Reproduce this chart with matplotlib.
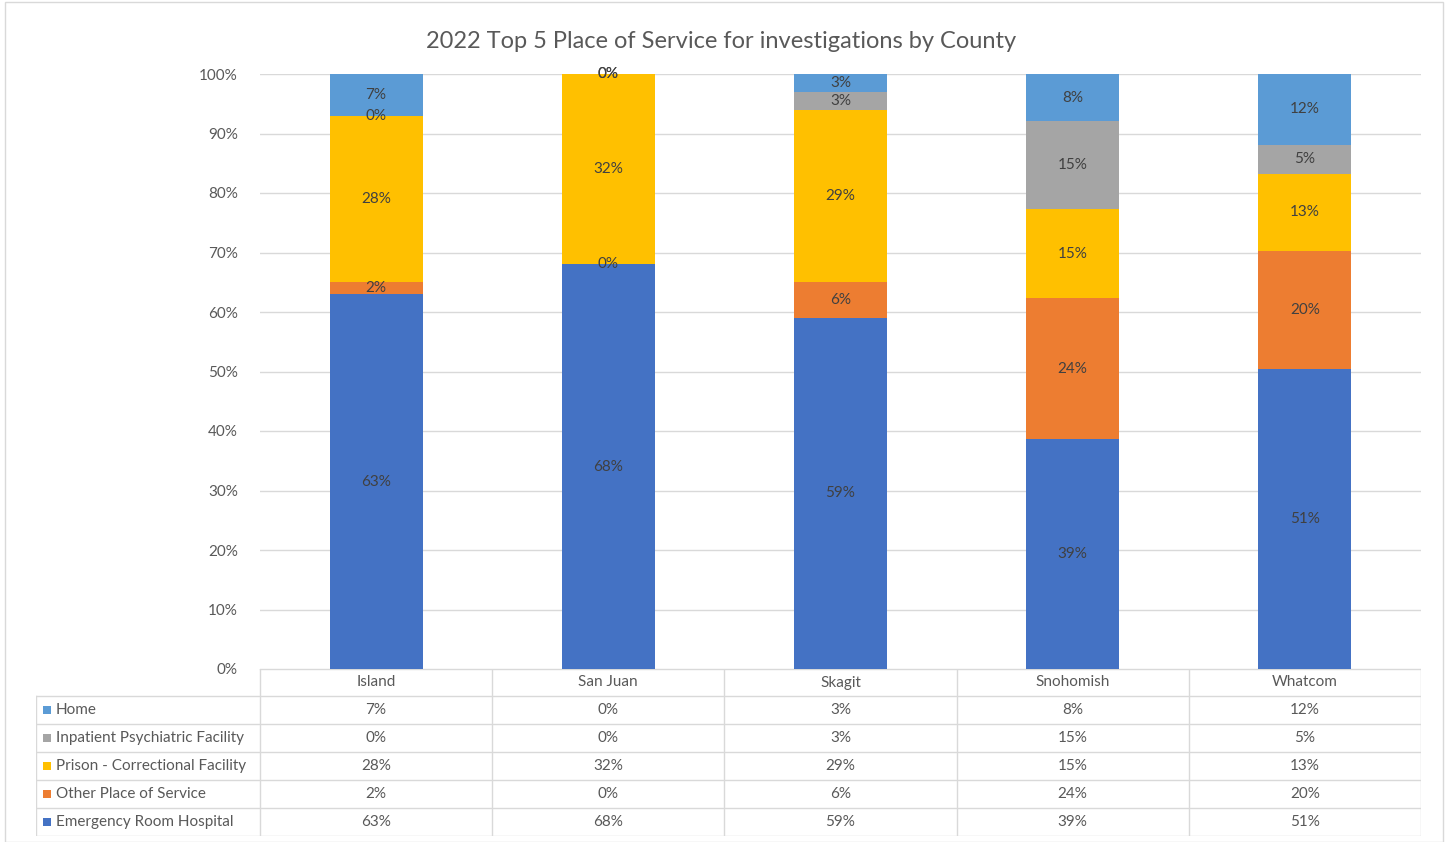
import numpy as np
import matplotlib.pyplot as plt
from matplotlib.patches import Rectangle

plt.rcParams['font.family'] = ['Lato', 'DejaVu Sans']

counties = ['Island', 'San Juan', 'Skagit', 'Snohomish', 'Whatcom']
# table order, top row first
places = ['Home', 'Inpatient Psychiatric Facility', 'Prison - Correctional Facility',
          'Other Place of Service', 'Emergency Room Hospital']
home = [7, 0, 3, 8, 12]
inpatient = [0, 0, 3, 15, 5]
prison = [28, 32, 29, 15, 13]
other = [2, 0, 6, 24, 20]
er = [63, 68, 59, 39, 51]
colors = ['#5B9BD5', '#A5A5A5', '#FFC000', '#ED7D31', '#4472C4']

W, H = 1445, 842
fig = plt.figure(figsize=(W / 100, H / 100), dpi=100)
fig.patches.append(Rectangle((5 / W, 0), 1438 / W, 840 / H, transform=fig.transFigure,
                             fill=False, edgecolor='#d9d9d9', lw=1))

def px(x0, y0, x1, y1):
    return [x0 / W, 1 - y1 / H, (x1 - x0) / W, (y1 - y0) / H]

ax = fig.add_axes(px(260, 74, 1421, 669))
rows = [home, inpatient, prison, other, er]
data = np.array(rows, dtype=float)
pct = data / data.sum(axis=0) * 100  # 100% stacked
x = np.arange(len(counties))
bottom = np.zeros(len(counties))
# stack from the bottom row of the table upwards
for i in range(len(places) - 1, -1, -1):
    ax.bar(x, pct[i], 0.4, bottom=bottom, color=colors[i], zorder=2)
    for j in range(len(counties)):
        ax.text(x[j], bottom[j] + pct[i][j] / 2, f'{rows[i][j]}%', ha='center', va='center',
                fontsize=11, color='#404040', zorder=3)
    bottom += pct[i]

ax.set_xlim(-0.5, 4.5)
ax.set_ylim(0, 100)
ax.set_yticks(range(0, 101, 10))
ax.set_yticklabels([f'{v}%' for v in range(0, 101, 10)], fontsize=11, color='#595959')
ax.tick_params(axis='y', length=0, pad=16)
ax.set_xticks([])
ax.grid(axis='y', color='#d9d9d9', lw=1, zorder=0)
for s in ax.spines.values():
    s.set_visible(False)

fig.text(721 / W, 1 - 41 / H, '2022 Top 5 Place of Service for investigations by County',
         ha='center', va='center', fontsize=17, color='#595959')

# data table under the bars
tab = fig.add_axes(px(36, 669, 1421, 836))
lab_w = 224 / 232.2
tab.set_xlim(-0.5 - lab_w, 4.5)
tab.set_ylim(6, 0)
tab.axis('off')
gc = '#d9d9d9'
row_y = [0, 27 / 167 * 6]
step = (6 - row_y[1]) / 5
for k in range(1, 6):
    row_y.append(row_y[1] + k * step)
# horizontal lines
tab.plot([-0.5, 4.5], [row_y[0]] * 2, color=gc, lw=1)
for yy in row_y[1:]:
    tab.plot([-0.5 - lab_w, 4.5], [yy] * 2, color=gc, lw=1)
# vertical lines
for xx in np.arange(-0.5, 5, 1):
    tab.plot([xx, xx], [row_y[0], row_y[-1]], color=gc, lw=1)
tab.plot([-0.5 - lab_w] * 2, [row_y[1], row_y[-1]], color=gc, lw=1)

for j, c in enumerate(counties):
    tab.text(j, (row_y[0] + row_y[1]) / 2, c, ha='center', va='center', fontsize=11, color='#595959')
for i, name in enumerate(places):
    yc = (row_y[i + 1] + row_y[i + 2]) / 2
    tab.add_patch(Rectangle((-0.5 - lab_w + 7 / 232.2, yc - 0.15), 8 / 232.2, 0.3,
                            color=colors[i], lw=0))
    tab.text(-0.5 - lab_w + 20 / 232.2, yc, name, ha='left', va='center', fontsize=11, color='#595959')
    for j in range(len(counties)):
        tab.text(j, yc, f'{rows[i][j]}%', ha='center', va='center', fontsize=11, color='#595959')

fig.savefig('out.png', dpi=100)
